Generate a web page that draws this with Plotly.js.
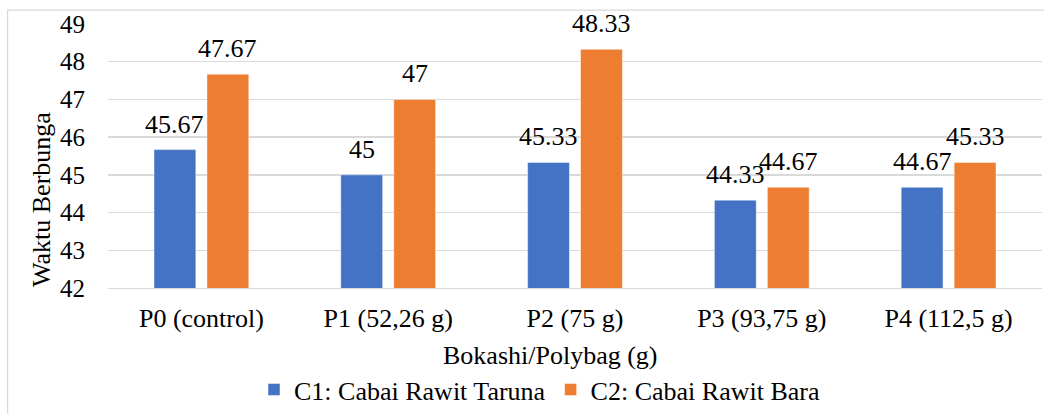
<!DOCTYPE html>
<html>
<head>
<meta charset="utf-8">
<script src="https://cdn.plot.ly/plotly-3.0.1.min.js"></script>
<style>
html,body{margin:0;padding:0;background:#fff;}
#chart{width:1044px;height:414px;}
</style>
</head>
<body>
<div id="chart"></div>
<script>
var categories = ["P0 (control)", "P1 (52,26 g)", "P2 (75 g)", "P3 (93,75 g)", "P4 (112,5 g)"];
var seriesNames = ["C1: Cabai Rawit Taruna", "C2: Cabai Rawit Bara"];
var c1Values = [45.67, 45, 45.33, 44.33, 44.67];
var c2Values = [47.67, 47, 48.33, 44.67, 45.33];
var c1Labels = ["45.67", "45", "45.33", "44.33", "44.67"];
var c2Labels = ["47.67", "47", "48.33", "44.67", "45.33"];
var yTicks = [42, 43, 44, 45, 46, 47, 48, 49];

var FONT = "Liberation Serif";
var BLUE = "#4472C4", ORANGE = "#ED7D31";

var traces = [
  {type: "bar", name: seriesNames[0], x: categories, y: c1Values,
   marker: {color: BLUE, line: {color: "rgba(255,255,255,0.45)", width: 1}}},
  {type: "bar", name: seriesNames[1], x: categories, y: c2Values,
   marker: {color: ORANGE, line: {color: "rgba(255,255,255,0.45)", width: 1}}}
];

var off = 0.1417;
var annotations = [];
categories.forEach(function(c, i){
  annotations.push({x: i - off, y: c1Values[i], xref: "x", yref: "y", text: c1Labels[i],
    showarrow: false, yanchor: "bottom", yshift: 9, font: {family: FONT, size: 26, color: "#000"}});
  annotations.push({x: i + off, y: c2Values[i], xref: "x", yref: "y", text: c2Labels[i],
    showarrow: false, yanchor: "bottom", yshift: 9, font: {family: FONT, size: 26, color: "#000"}});
});
annotations.push({xref: "paper", yref: "paper", x: 0.4743, y: -0.255, xanchor: "center", yanchor: "middle",
  text: "Bokashi/Polybag (g)", showarrow: false, font: {family: FONT, size: 26, color: "#000"}});
annotations.push({xref: "paper", yref: "paper", x: -0.0711, y: 0.3358, xanchor: "center", yanchor: "middle",
  text: "Waktu Berbunga", textangle: -90, showarrow: false, font: {family: FONT, size: 26, color: "#000"}});

var layout = {
  width: 1044, height: 414,
  margin: {l: 107.5, r: 1.5, t: 24, b: 122},
  paper_bgcolor: "#fff", plot_bgcolor: "#fff",
  font: {family: FONT, size: 26, color: "#000"},
  barmode: "group", bargap: 0.433, bargroupgap: 0.21,
  showlegend: true,
  legend: {orientation: "h", x: 0.462, xanchor: "center", y: -0.385, yanchor: "middle",
    font: {family: FONT, size: 26, color: "#000"}, itemwidth: 30, traceorder: "normal"},
  xaxis: {type: "category", tickfont: {family: FONT, size: 26, color: "#000"},
    showline: true, linecolor: "#d9d9d9", linewidth: 1.3, ticks: "", ticklabelstandoff: 6,
    showgrid: false, fixedrange: true},
  yaxis: {range: [42, 49], tickvals: yTicks, ticktext: yTicks.map(String),
    tickfont: {family: FONT, size: 25, color: "#000"},
    showgrid: true, gridcolor: "#d9d9d9", gridwidth: 1.3, zeroline: false, showline: false,
    ticks: "", ticklabelstandoff: 22, fixedrange: true},
  annotations: annotations,
  shapes: [{type: "rect", xref: "paper", yref: "paper", x0: -0.1075, x1: 1.2, y0: -0.6, y1: 1.0522,
    line: {color: "#d9d9d9", width: 1.3}, fillcolor: "rgba(0,0,0,0)", layer: "below"}]
};

Plotly.newPlot("chart", traces, layout, {displayModeBar: false, staticPlot: true});
</script>
</body>
</html>
